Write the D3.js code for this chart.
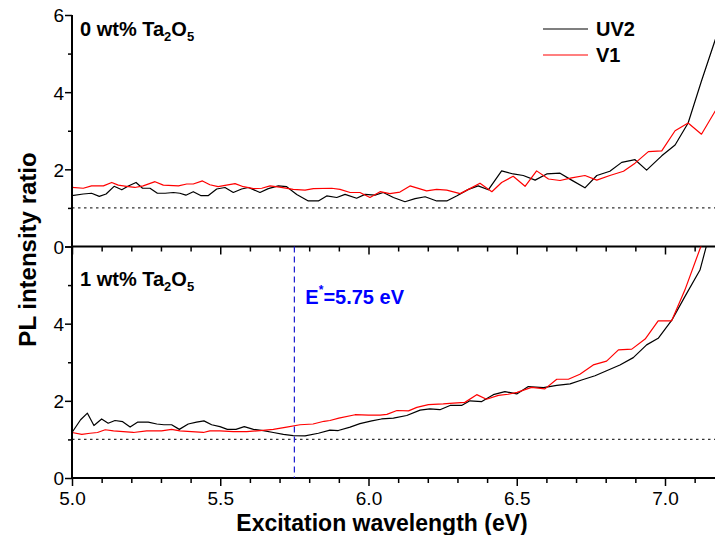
<!DOCTYPE html>
<html>
<head>
<meta charset="utf-8">
<script src="https://cdn.jsdelivr.net/npm/d3@7"></script>
<style>
  body { margin: 0; background: #fff; }
  svg { display: block; }
  text { font-family: "Liberation Sans", Arial, sans-serif; }
</style>
</head>
<body>
<svg id="chart" width="715" height="535"></svg>
<script>
// ---------- data ----------
const xMajorTicks = [5.0, 5.5, 6.0, 6.5, 7.0];
const yMajorTicks = [0, 2, 4, 6];
const seriesNames = ["UV2", "V1"];
const seriesColors = ["#000000", "#ff0000"];
const markerE = 5.75;
const refLevel = 1;

// top panel (0 wt% Ta2O5)
const topUV2_x = [5.000,5.038,5.066,5.092,5.115,5.142,5.168,5.190,5.216,5.238,5.263,5.288,5.314,5.342,5.364,5.384,5.409,5.434,5.460,5.488,5.516,5.544,5.572,5.595,5.634,5.662,5.696,5.724,5.758,5.797,5.831,5.859,5.893,5.921,5.960,5.988,6.022,6.050,6.084,6.123,6.157,6.191,6.230,6.264,6.297,6.337,6.370,6.404,6.449,6.488,6.522,6.562,6.601,6.646,6.685,6.730,6.770,6.814,6.854,6.899,6.938,6.989,7.034,7.078,7.123,7.170];
const topUV2_y = [1.32,1.36,1.38,1.30,1.36,1.56,1.47,1.57,1.66,1.51,1.51,1.38,1.38,1.40,1.38,1.33,1.42,1.32,1.32,1.49,1.53,1.40,1.49,1.53,1.40,1.50,1.57,1.55,1.35,1.18,1.18,1.31,1.27,1.35,1.25,1.35,1.33,1.40,1.27,1.16,1.24,1.29,1.18,1.18,1.31,1.48,1.57,1.47,1.96,1.88,1.84,1.72,1.88,1.90,1.72,1.52,1.84,1.95,2.18,2.25,1.98,2.35,2.63,3.20,4.29,5.37];
const topV1_x = [5.000,5.038,5.066,5.106,5.134,5.156,5.184,5.212,5.240,5.280,5.308,5.359,5.387,5.409,5.440,5.465,5.493,5.521,5.550,5.578,5.612,5.640,5.668,5.700,5.746,5.786,5.814,5.876,5.904,5.938,5.971,6.005,6.039,6.072,6.106,6.140,6.196,6.230,6.264,6.309,6.342,6.376,6.416,6.449,6.488,6.528,6.567,6.607,6.646,6.685,6.730,6.770,6.814,6.860,6.899,6.944,6.989,7.034,7.078,7.123,7.170];
const topV1_y = [1.53,1.51,1.57,1.57,1.66,1.59,1.56,1.53,1.57,1.68,1.59,1.57,1.62,1.62,1.70,1.60,1.55,1.59,1.63,1.55,1.50,1.51,1.57,1.54,1.48,1.46,1.50,1.51,1.48,1.40,1.40,1.27,1.42,1.37,1.41,1.57,1.44,1.48,1.46,1.37,1.50,1.64,1.42,1.66,1.82,1.56,1.96,1.75,1.71,1.78,1.84,1.72,1.84,1.95,2.16,2.46,2.48,3.00,3.20,2.91,3.52];

// bottom panel (1 wt% Ta2O5)
const botUV2_x = [5.000,5.029,5.052,5.074,5.100,5.122,5.145,5.171,5.196,5.222,5.257,5.286,5.310,5.336,5.362,5.392,5.420,5.445,5.471,5.499,5.524,5.553,5.581,5.612,5.645,5.679,5.713,5.746,5.786,5.831,5.870,5.898,5.938,5.971,6.011,6.044,6.084,6.129,6.174,6.207,6.241,6.275,6.314,6.342,6.382,6.421,6.460,6.500,6.539,6.590,6.635,6.680,6.719,6.764,6.803,6.848,6.893,6.938,6.977,7.023,7.067,7.118,7.160];
const botUV2_y = [1.18,1.51,1.68,1.36,1.53,1.42,1.49,1.46,1.32,1.45,1.45,1.40,1.38,1.38,1.26,1.40,1.45,1.48,1.38,1.33,1.26,1.26,1.33,1.26,1.23,1.18,1.13,1.10,1.09,1.16,1.24,1.23,1.32,1.41,1.48,1.53,1.55,1.62,1.76,1.79,1.77,1.88,1.88,2.00,1.98,2.16,2.24,2.18,2.37,2.34,2.40,2.44,2.54,2.65,2.78,2.93,3.12,3.45,3.62,4.09,4.70,5.39,6.60];
const botV1_x = [5.000,5.033,5.061,5.086,5.112,5.140,5.173,5.207,5.252,5.302,5.336,5.364,5.403,5.443,5.465,5.499,5.544,5.589,5.634,5.679,5.724,5.769,5.813,5.850,5.870,5.900,5.955,6.000,6.039,6.062,6.096,6.135,6.163,6.202,6.252,6.286,6.325,6.365,6.398,6.438,6.471,6.501,6.550,6.595,6.635,6.674,6.713,6.758,6.803,6.843,6.888,6.933,6.977,7.022,7.067,7.140];
const botV1_y = [1.18,1.13,1.16,1.18,1.25,1.22,1.20,1.18,1.22,1.22,1.26,1.22,1.20,1.18,1.22,1.22,1.20,1.20,1.23,1.26,1.32,1.38,1.40,1.47,1.49,1.55,1.64,1.63,1.63,1.65,1.75,1.74,1.83,1.90,1.92,1.94,1.96,2.16,2.04,2.14,2.17,2.22,2.35,2.31,2.56,2.56,2.69,2.93,3.03,3.32,3.34,3.60,4.07,4.07,4.87,6.40];

// ---------- layout ----------
const svg = d3.select("#chart");
const L = 72, R = 715.4, T = 15, MID = 246.5, B = 478;

const x = d3.scaleLinear().domain([5, 7.17]).range([L, R]);
const yTop = d3.scaleLinear().domain([0, 6]).range([MID, T]);
const yBot = d3.scaleLinear().domain([0, 6]).range([B, MID]);

const zip = (xs, ys) => xs.map((v, i) => [v, ys[i]]);

const panels = [
  { y: yTop, top: T, bottom: MID, id: "clipTop", label: "0", labelY: 36,
    series: [zip(topUV2_x, topUV2_y), zip(topV1_x, topV1_y)], yLabels: [0, 2, 4, 6] },
  { y: yBot, top: MID, bottom: B, id: "clipBot", label: "1", labelY: 286,
    series: [zip(botUV2_x, botUV2_y), zip(botV1_x, botV1_y)], yLabels: [0, 2, 4] }
];

const defs = svg.append("defs");
panels.forEach(p => {
  defs.append("clipPath").attr("id", p.id)
    .append("rect").attr("x", L).attr("y", p.top)
    .attr("width", R - L + 2).attr("height", p.bottom - p.top);
});

const minorX = d3.range(50, 72).map(d => d / 10).filter(v => !xMajorTicks.some(m => Math.abs(m - v) < 1e-6));
const minorY = [1, 3, 5];

panels.forEach((p, pi) => {
  const g = svg.append("g");

  // reference line at ratio 1
  g.append("line")
    .attr("x1", L).attr("x2", R)
    .attr("y1", p.y(refLevel)).attr("y2", p.y(refLevel))
    .attr("stroke", "#333").attr("stroke-width", 1.2)
    .attr("stroke-dasharray", "2.5,3.5");

  // series
  const line = d3.line().x(d => x(d[0])).y(d => p.y(d[1]));
  const sg = g.append("g").attr("clip-path", `url(#${p.id})`);
  p.series.forEach((s, si) => {
    sg.append("path").datum(s)
      .attr("d", line)
      .attr("fill", "none")
      .attr("stroke", seriesColors[si])
      .attr("stroke-width", 1.2)
      .attr("stroke-linejoin", "round");
  });

  // x-axis at bottom of panel (ticks pointing down)
  const xAxis = g.append("g").attr("transform", `translate(0,${p.bottom})`)
    .call(d3.axisBottom(x).tickValues(xMajorTicks).tickSize(8)
      .tickFormat(pi === 1 ? d3.format(".1f") : ""));
  xAxis.select(".domain").attr("stroke-width", 2).attr("d", `M${L},0H${R + 2}`);
  xAxis.selectAll(".tick line").attr("stroke-width", 1.5);
  xAxis.selectAll(".tick text")
    .attr("font-size", 19).attr("y", 14).attr("dy", "0.71em")
    .attr("font-family", "Liberation Sans, Arial, sans-serif").attr("fill", "#000");
  const xMinor = g.append("g").attr("transform", `translate(0,${p.bottom})`)
    .call(d3.axisBottom(x).tickValues(minorX).tickSize(5).tickFormat(""));
  xMinor.select(".domain").remove();
  xMinor.selectAll(".tick line").attr("stroke-width", 1.5);

  // y-axis
  const yAxis = g.append("g").attr("transform", `translate(${L},0)`)
    .call(d3.axisLeft(p.y).tickValues(yMajorTicks).tickSize(7)
      .tickFormat(d => p.yLabels.includes(d) ? d3.format("d")(d) : ""));
  yAxis.select(".domain").attr("stroke-width", 2).attr("d", `M0,${p.y(6)}V${p.y(0)}`);
  yAxis.selectAll(".tick line").attr("stroke-width", 1.5);
  yAxis.selectAll(".tick text")
    .attr("font-size", 19).attr("x", -8).attr("dy", "0.36em")
    .attr("font-family", "Liberation Sans, Arial, sans-serif").attr("fill", "#000");
  const yMinor = g.append("g").attr("transform", `translate(${L},0)`)
    .call(d3.axisLeft(p.y).tickValues(minorY).tickSize(4).tickFormat(""));
  yMinor.select(".domain").remove();
  yMinor.selectAll(".tick line").attr("stroke-width", 1.5);

  // panel label
  const lab = g.append("text")
    .attr("x", 80).attr("y", p.labelY)
    .attr("font-size", 20).attr("font-weight", "bold").attr("fill", "#000");
  lab.append("tspan").text(`${p.label} wt% Ta`);
  lab.append("tspan").attr("font-size", 13).attr("dy", 5).text("2");
  lab.append("tspan").attr("dy", -5).text("O");
  lab.append("tspan").attr("font-size", 13).attr("dy", 5).text("5");
});

// E* marker in bottom panel
svg.append("line")
  .attr("x1", x(markerE)).attr("x2", x(markerE))
  .attr("y1", MID).attr("y2", B)
  .attr("stroke", "#1a1ad0").attr("stroke-width", 1.2)
  .attr("stroke-dasharray", "6,4");
const et = svg.append("text")
  .attr("x", x(markerE) + 11).attr("y", 304)
  .attr("font-size", 20).attr("font-weight", "bold").attr("fill", "#0000ff");
et.append("tspan").text("E");
et.append("tspan").attr("font-size", 12).attr("dy", -10).text("*");
et.append("tspan").attr("dy", 10).text(`=${markerE} eV`);

// legend
const lg = svg.append("g");
seriesNames.forEach((n, i) => {
  const yy = 29 + i * 26;
  lg.append("line").attr("x1", 543).attr("x2", 588).attr("y1", yy).attr("y2", yy)
    .attr("stroke", seriesColors[i]).attr("stroke-width", 1.2);
  lg.append("text").attr("x", 596).attr("y", yy).attr("dy", "0.36em")
    .attr("font-size", 20).attr("font-weight", "bold").attr("fill", "#000").text(n);
});

// axis titles
svg.append("text")
  .attr("transform", `translate(36,${(T + B) / 2 + 3}) rotate(-90)`)
  .attr("text-anchor", "middle")
  .attr("font-size", 24).attr("font-weight", "bold").attr("fill", "#000")
  .text("PL intensity ratio");
svg.append("text")
  .attr("x", 382).attr("y", 531)
  .attr("text-anchor", "middle")
  .attr("font-size", 23).attr("font-weight", "bold").attr("fill", "#000")
  .text("Excitation wavelength (eV)");
</script>
</body>
</html>
